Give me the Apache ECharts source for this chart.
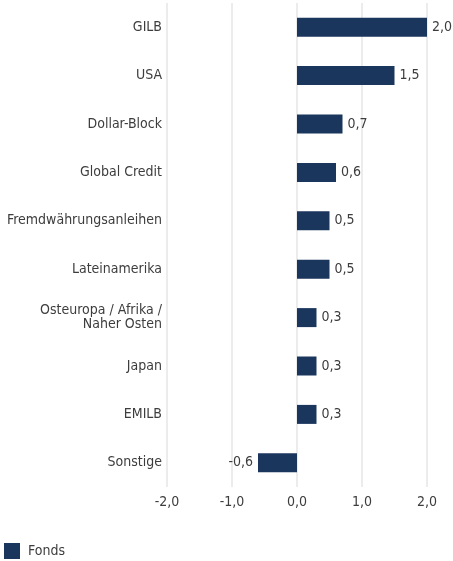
<!DOCTYPE html>
<html>
    <head>
        <meta charset="utf-8">
        <title>Fonds</title>
        <script src="https://cdn.jsdelivr.net/npm/echarts@6/dist/echarts.min.js"></script>
        <style>
            html, body { margin: 0; padding: 0; background: #fff; }
            #chart1 { width: 453px; height: 561px; }
        </style>
    </head>
    <body>
        <div id="chart1"></div>
    <script>
        // 数据
        var categories = ['GILB', 'USA', 'Dollar-Block', 'Global Credit', 'Fremdwährungsanleihen',
            'Lateinamerika', 'Osteuropa / Afrika /\nNaher Osten', 'Japan', 'EMILB', 'Sonstige'];
        var fondsValues = [2.0, 1.5, 0.7, 0.6, 0.5, 0.5, 0.3, 0.3, 0.3, -0.6];
        var xTicks = [-2, -1, 0, 1, 2];

        var fontName = "'Liberation Sans Narrow', 'DejaVu Sans Condensed', 'Roboto', sans-serif";
        var textColor = '#3d3d3d';

        function fmt(v) {
            return v.toFixed(1).replace('.', ',');
        }

        var myChart1 = echarts.init(document.getElementById('chart1'));
        myChart1.setOption({
            animation: false,
            textStyle: { fontFamily: fontName },
            grid: { left: 167, right: 26, top: 3, bottom: 74, outerBoundsMode: 'none', containLabel: false },
            legend: {
                data: ['Fonds'],
                left: 4,
                top: 543,
                padding: 0,
                icon: 'rect',
                itemWidth: 16,
                itemHeight: 16,
                itemGap: 8,
                textStyle: { fontSize: 14, color: textColor, fontFamily: fontName, padding: [0, 0, 0, 3] }
            },
            xAxis: {
                type: 'value',
                min: xTicks[0],
                max: xTicks[xTicks.length - 1],
                interval: 1,
                axisLine: { show: false },
                axisTick: { show: false },
                splitLine: { lineStyle: { color: '#ececec', width: 2 } },
                axisLabel: {
                    fontSize: 14, color: textColor, margin: 8,
                    formatter: function (v) { return fmt(v); }
                }
            },
            yAxis: {
                type: 'category',
                inverse: true,
                data: categories,
                axisLine: { show: false },
                axisTick: { show: false },
                axisLabel: { fontSize: 14, color: textColor, margin: 5, lineHeight: 14, align: 'right' }
            },
            series: [{
                name: 'Fonds',
                type: 'bar',
                barWidth: 19,
                itemStyle: { color: '#1b365d' },
                data: fondsValues.map(function (v) {
                    return {
                        value: v,
                        label: {
                            show: true,
                            position: v < 0 ? 'left' : 'right',
                            distance: 5,
                            fontSize: 14,
                            color: textColor,
                            formatter: function (p) { return fmt(p.value); }
                        }
                    };
                })
            }]
        });
    </script>
    </body>
</html>
